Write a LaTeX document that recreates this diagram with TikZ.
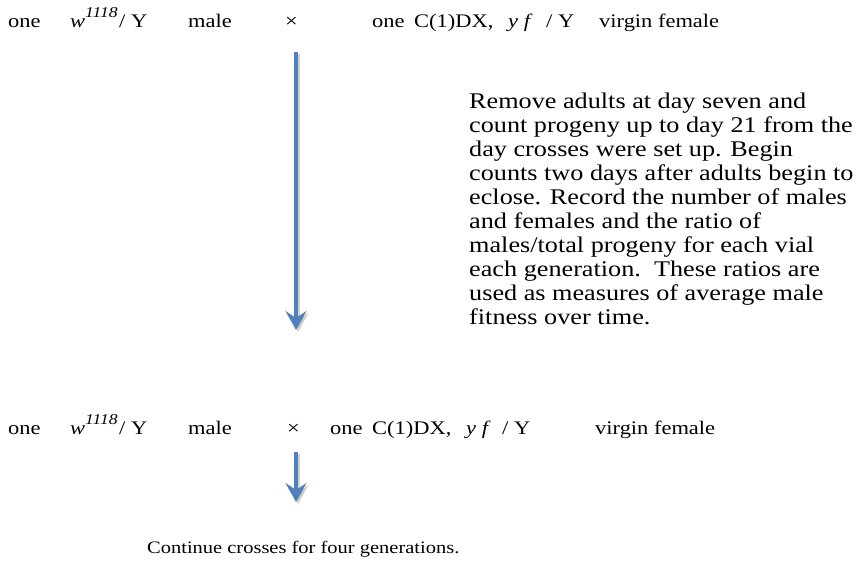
\documentclass[tikz,border=0pt]{standalone}
\usepackage{fontspec}
\setmainfont[FakeStretch=1.17]{Liberation Serif}
\usetikzlibrary{arrows.meta}
\definecolor{arrowblue}{HTML}{4F81BD}
\newcommand{\supnum}[1]{\raisebox{9.5pt}{\fontsize{15}{15}\selectfont\itshape #1}}
\tikzset{
  txt/.style={anchor=base west, inner sep=0pt, font=\fontsize{19.2}{22}\selectfont},
  flowarrow/.style={draw=arrowblue, line width=4.5pt, -{Stealth[length=19pt, width=21pt, inset=7pt]}},
  shadowarrow/.style={draw=black!30, line width=4.5pt, opacity=0.6, -{Stealth[length=19pt, width=21pt, inset=7pt]}}
}
\begin{document}
\begin{tikzpicture}[x=1pt,y=-1pt]
\useasboundingbox (0,0) rectangle (859,573);
% top cross
\node[txt] (oneA) at (8,27) {one};
\node[txt] (wA) at (70,27) {\textit{w}\supnum{1118}};
\node[txt] (yA) at (119,27) {/ Y};
\node[txt] (maleA) at (188,27) {male};
\node[txt] (xA) at (285,27) {×};
\node[txt] (oneB) at (372,27) {one};
\node[txt] (cA) at (414,27) {C(1)DX,};
\node[txt] (yfA) at (508,27) {\textit{y f}};
\node[txt] (slA) at (546,27) {/ Y};
\node[txt] (virA) at (599,27) {virgin female};
% note
\node[anchor=north west, inner sep=0pt, align=left, font=\fontsize{22.4}{24}\selectfont] (note) at (469,93)
 {Remove adults at day seven and\\
  count progeny up to day 21 from the\\
  day crosses were set up. Begin\\
  counts two days after adults begin to\\
  eclose. Record the number of males\\
  and females and the ratio of\\
  males/total progeny for each vial\\
  each generation.\ \ These ratios are\\
  used as measures of average male\\
  fitness over time.};
% top arrow
\coordinate (a1s) at (296,52);
\coordinate (a1e) at (296,330);
\coordinate (a1ss) at (298,54);
\coordinate (a1es) at (298,332);
\draw[shadowarrow] (a1ss) -- (a1es);
\draw[flowarrow] (a1s) -- (a1e);
% bottom cross
\node[txt] (oneC) at (8,434) {one};
\node[txt] (wC) at (70,434) {\textit{w}\supnum{1118}};
\node[txt] (yC) at (119,434) {/ Y};
\node[txt] (maleC) at (188,434) {male};
\node[txt] (xC) at (287,434) {×};
\node[txt] (oneD) at (330,434) {one};
\node[txt] (cC) at (372,434) {C(1)DX,};
\node[txt] (yfC) at (466,434) {\textit{y f}};
\node[txt] (slC) at (502,434) {/ Y};
\node[txt] (virC) at (595,434) {virgin female};
% bottom arrow
\coordinate (a2s) at (296,452);
\coordinate (a2e) at (296,502);
\coordinate (a2ss) at (298,454);
\coordinate (a2es) at (298,504);
\draw[shadowarrow] (a2ss) -- (a2es);
\draw[flowarrow] (a2s) -- (a2e);
\node[txt, font=\fontsize{17.5}{20}\selectfont] (cont) at (147,553) {Continue crosses for four generations.};
\end{tikzpicture}
\end{document}
